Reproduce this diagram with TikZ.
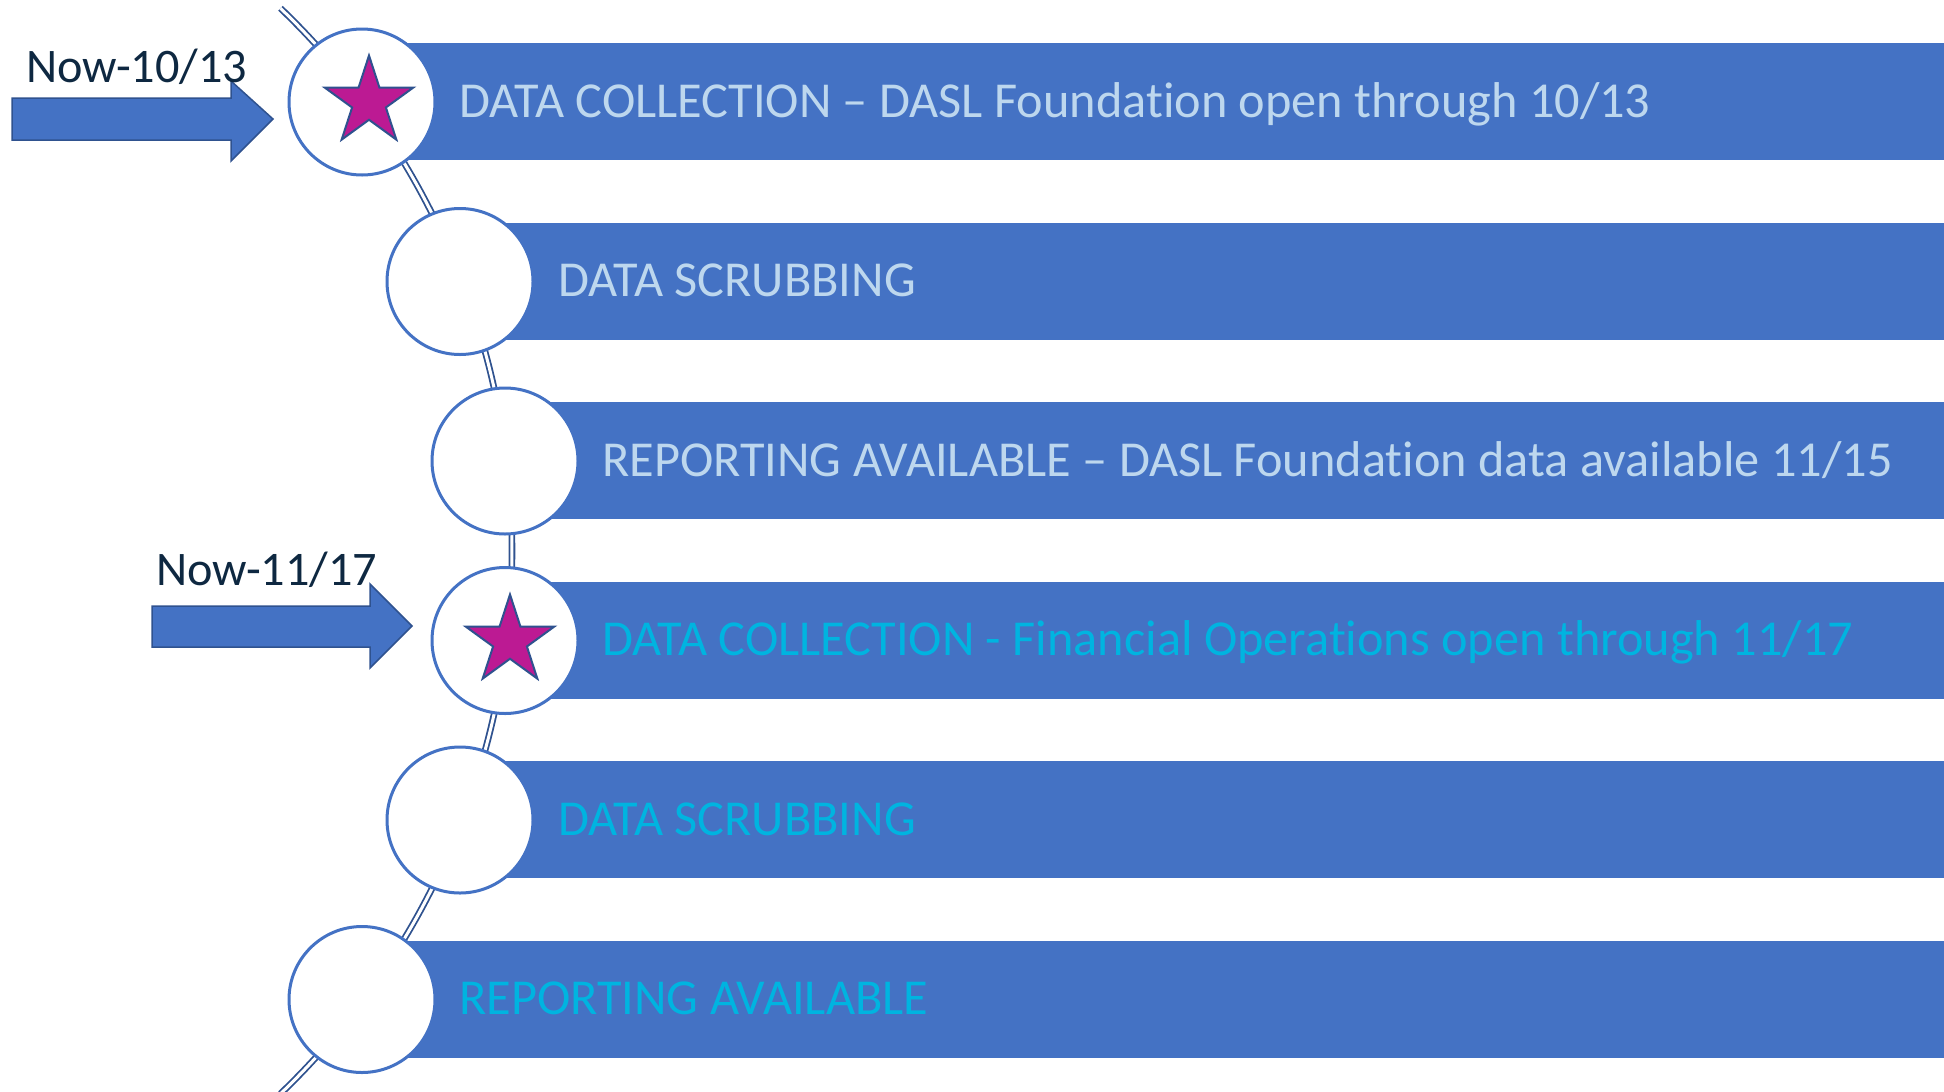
\documentclass[tikz,border=0pt]{standalone}
\usepackage{fontspec}
\setmainfont[Ligatures=NoCommon]{Carlito}
\usetikzlibrary{shapes.geometric,calc}
\definecolor{barblue}{HTML}{4472C4}
\definecolor{edgeblue}{HTML}{2F528F}
\definecolor{lighttext}{HTML}{BDD7EE}
\definecolor{cyantext}{HTML}{00B4E0}
\definecolor{starfill}{HTML}{BC1A93}
\definecolor{labeltext}{HTML}{0E2841}
\tikzset{
  bar/.style={fill=barblue, draw=none},
  dot/.style={circle, draw=barblue, fill=white, line width=3bp, minimum size=146bp, inner sep=0pt},
  starmark/.style={star, star points=5, star point ratio=2.618, fill=starfill, draw=edgeblue, line width=2bp, minimum size=93bp, inner sep=0pt},
  bartext/.style={anchor=base west, inner sep=0pt, font=\fontsize{50.5}{60}\selectfont},
  lbl/.style={anchor=base west, inner sep=0pt, text=labeltext, font=\fontsize{48.4}{58}\selectfont},
  blockarrow/.style={fill=barblue, draw=edgeblue, line width=1.5bp, line join=miter},
  spine/.style={draw=edgeblue, double=white, line width=1.8bp, double distance=3bp}
}
\begin{document}
\begin{tikzpicture}[x=1bp, y=-1bp]
\useasboundingbox (0,0) rectangle (1944,1091);
% bars
\foreach \cx [count=\k from 0] in {362,460,505,505,460,362} {
  \fill[bar] (\cx, 43+179.5*\k) rectangle (1944, 160+179.5*\k);
}
% spine arc
\coordinate (arctop) at ($(-240,551)+(-46.2:752)$);
\draw[spine] (arctop) arc[start angle=-46.2, end angle=46.2, radius=752];
% circles
\node[dot] (c1) at (362,102) {};
\node[dot] (c2) at (460,281.5) {};
\node[dot] (c3) at (505,461) {};
\node[dot] (c4) at (505,640.5) {};
\node[dot] (c5) at (460,820) {};
\node[dot] (c6) at (362,999.5) {};
% stars
\node[starmark] (s1) at (369,102) {};
\node[starmark] (s2) at (510,641) {};
% texts
\node[bartext, text=lighttext] (t1) at (459,117) {DATA COLLECTION – DASL Foundation open through 10/13};
\node[bartext, text=lighttext] (t2) at (558,296.5) {DATA SCRUBBING};
\node[bartext, text=lighttext] (t3) at (602,476) {REPORTING AVAILABLE – DASL Foundation data available 11/15};
\node[bartext, text=cyantext] (t4) at (602,655.5) {DATA COLLECTION - Financial Operations open through 11/17};
\node[bartext, text=cyantext] (t5) at (558,835) {DATA SCRUBBING};
\node[bartext, text=cyantext] (t6) at (459,1014.5) {REPORTING AVAILABLE};
% block arrows
\draw[blockarrow] (12,98) -- (231,98) -- (231,81) -- (273,119) -- (231,161) -- (231,140) -- (12,140) -- cycle;
\draw[blockarrow] (152,606) -- (370,606) -- (370,584) -- (412,626) -- (370,668) -- (370,647) -- (152,647) -- cycle;
% labels
\node[lbl] (l1) at (26,82) {Now-10/13};
\node[lbl] (l2) at (156,585) {Now-11/17};
\end{tikzpicture}
\end{document}
